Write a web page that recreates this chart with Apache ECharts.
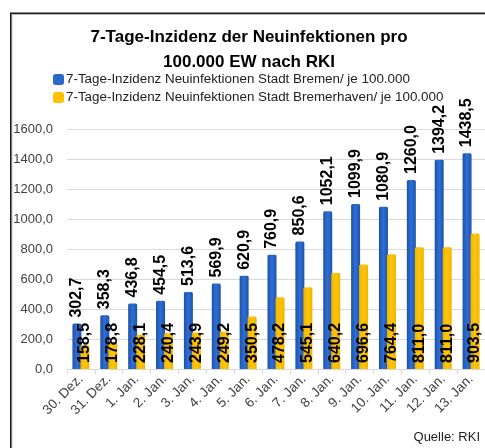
<!DOCTYPE html>
<html>
<head>
<meta charset="utf-8">
<script src="https://cdn.jsdelivr.net/npm/echarts@6/dist/echarts.min.js"></script>
<style>html,body{margin:0;padding:0;background:#fff;}#c{width:485px;height:448px;}</style>
</head>
<body>
<div id="c"></div>
<script>
const categories = ['30. Dez.', '31. Dez.', '1. Jan.', '2. Jan.', '3. Jan.', '4. Jan.', '5. Jan.', '6. Jan.', '7. Jan.', '8. Jan.', '9. Jan.', '10. Jan.', '11. Jan.', '12. Jan.', '13. Jan.'];
const bremen = [302.7, 358.3, 436.8, 454.5, 513.6, 569.9, 620.9, 760.9, 850.6, 1052.1, 1099.9, 1080.9, 1260.0, 1394.2, 1438.5];
const bremerhaven = [158.5, 178.8, 228.1, 240.4, 243.9, 249.2, 350.5, 478.2, 545.1, 640.2, 696.6, 764.4, 811.0, 811.0, 903.5];
const yTicks = [0, 200, 400, 600, 800, 1000, 1200, 1400, 1600];
const seriesNames = ['7-Tage-Inzidenz Neuinfektionen Stadt Bremen/ je 100.000', '7-Tage-Inzidenz Neuinfektionen Stadt Bremerhaven/ je 100.000'];
const titleText = '7-Tage-Inzidenz der Neuinfektionen pro\n100.000 EW nach RKI';
const sourceText = 'Quelle: RKI';

const fmt = v => Number(v).toFixed(1).replace('.', ',');
const FONT = 'Liberation Sans';
const blueGrad = new echarts.graphic.LinearGradient(0, 0, 1, 0, [
  {offset: 0, color: '#1d52aa'}, {offset: 0.5, color: '#2f6fd4'}, {offset: 1, color: '#1d52aa'}]);
const yellowGrad = new echarts.graphic.LinearGradient(0, 0, 1, 0, [
  {offset: 0, color: '#f0b400'}, {offset: 0.5, color: '#ffc50a'}, {offset: 1, color: '#f0b400'}]);

const chart = echarts.init(document.getElementById('c'), null, {renderer: 'canvas'});
chart.setOption({
  animation: false,
  backgroundColor: '#fff',
  textStyle: {fontFamily: FONT},
  title: {
    text: titleText,
    left: 249, top: 25, textAlign: 'center', padding: 0,
    textStyle: {fontFamily: FONT, fontSize: 17, fontWeight: 'bold', color: '#000', lineHeight: 25}
  },
  legend: {
    orient: 'vertical', left: 53, top: 73, padding: 0,
    itemWidth: 11, itemHeight: 11, itemGap: 5,
    icon: 'roundRect',
    textStyle: {fontFamily: FONT, fontSize: 13.4, color: '#222', padding: [0, 0, 0, -3]},
    data: [{name: seriesNames[0], itemStyle: {color: '#2b68c8'}}, {name: seriesNames[1], itemStyle: {color: '#ffc000'}}]
  },
  grid: {left: 67, right: -2, top: 129, bottom: 79, containLabel: false},
  xAxis: {
    type: 'category', data: categories,
    axisLine: {lineStyle: {color: '#d9d9d9', width: 1}},
    axisTick: {show: true, length: 5, lineStyle: {color: '#d9d9d9'}},
    axisLabel: {rotate: 45, fontSize: 13.5, color: '#404040', margin: 8, interval: 0, fontFamily: FONT}
  },
  yAxis: {
    type: 'value', min: yTicks[0], max: yTicks[yTicks.length - 1], interval: yTicks[1] - yTicks[0],
    axisLine: {show: false}, axisTick: {show: false},
    splitLine: {lineStyle: {color: '#d9d9d9', width: 1}},
    axisLabel: {formatter: fmt, fontSize: 13, color: '#404040', margin: 14, fontFamily: FONT}
  },
  series: [
    {
      name: seriesNames[0], type: 'bar', data: bremen, barWidth: 9, barGap: '-11%',
      itemStyle: {color: blueGrad, borderRadius: [1.5, 1.5, 0, 0]},
      label: {show: true, position: 'top', rotate: 90, align: 'left', verticalAlign: 'middle', distance: 6,
        formatter: p => fmt(p.value), fontSize: 16, fontWeight: 'bold', color: '#000', fontFamily: FONT}
    },
    {
      name: seriesNames[1], type: 'bar', data: bremerhaven, barWidth: 9,
      itemStyle: {color: yellowGrad, borderRadius: [1.5, 1.5, 0, 0]},
      label: {show: true, position: 'insideBottom', rotate: 90, align: 'left', verticalAlign: 'middle', distance: 6,
        formatter: p => fmt(p.value), fontSize: 16, fontWeight: 'bold', color: '#000', fontFamily: FONT}
    }
  ],
  graphic: [
    {type: 'rect', shape: {x: 10.75, y: 13.25, width: 490, height: 450}, style: {fill: 'none', stroke: '#1a1a1a', lineWidth: 1.5}, z: 100},
    {type: 'rect', shape: {x: 12, y: 14.5, width: 490, height: 450}, style: {fill: 'none', stroke: '#bfbfbf', lineWidth: 1}, z: 99},
    {type: 'text', right: 5, top: 431, style: {text: sourceText, fontFamily: FONT, fontSize: 13, fill: '#222'}}
  ]
});
</script>
</body>
</html>
